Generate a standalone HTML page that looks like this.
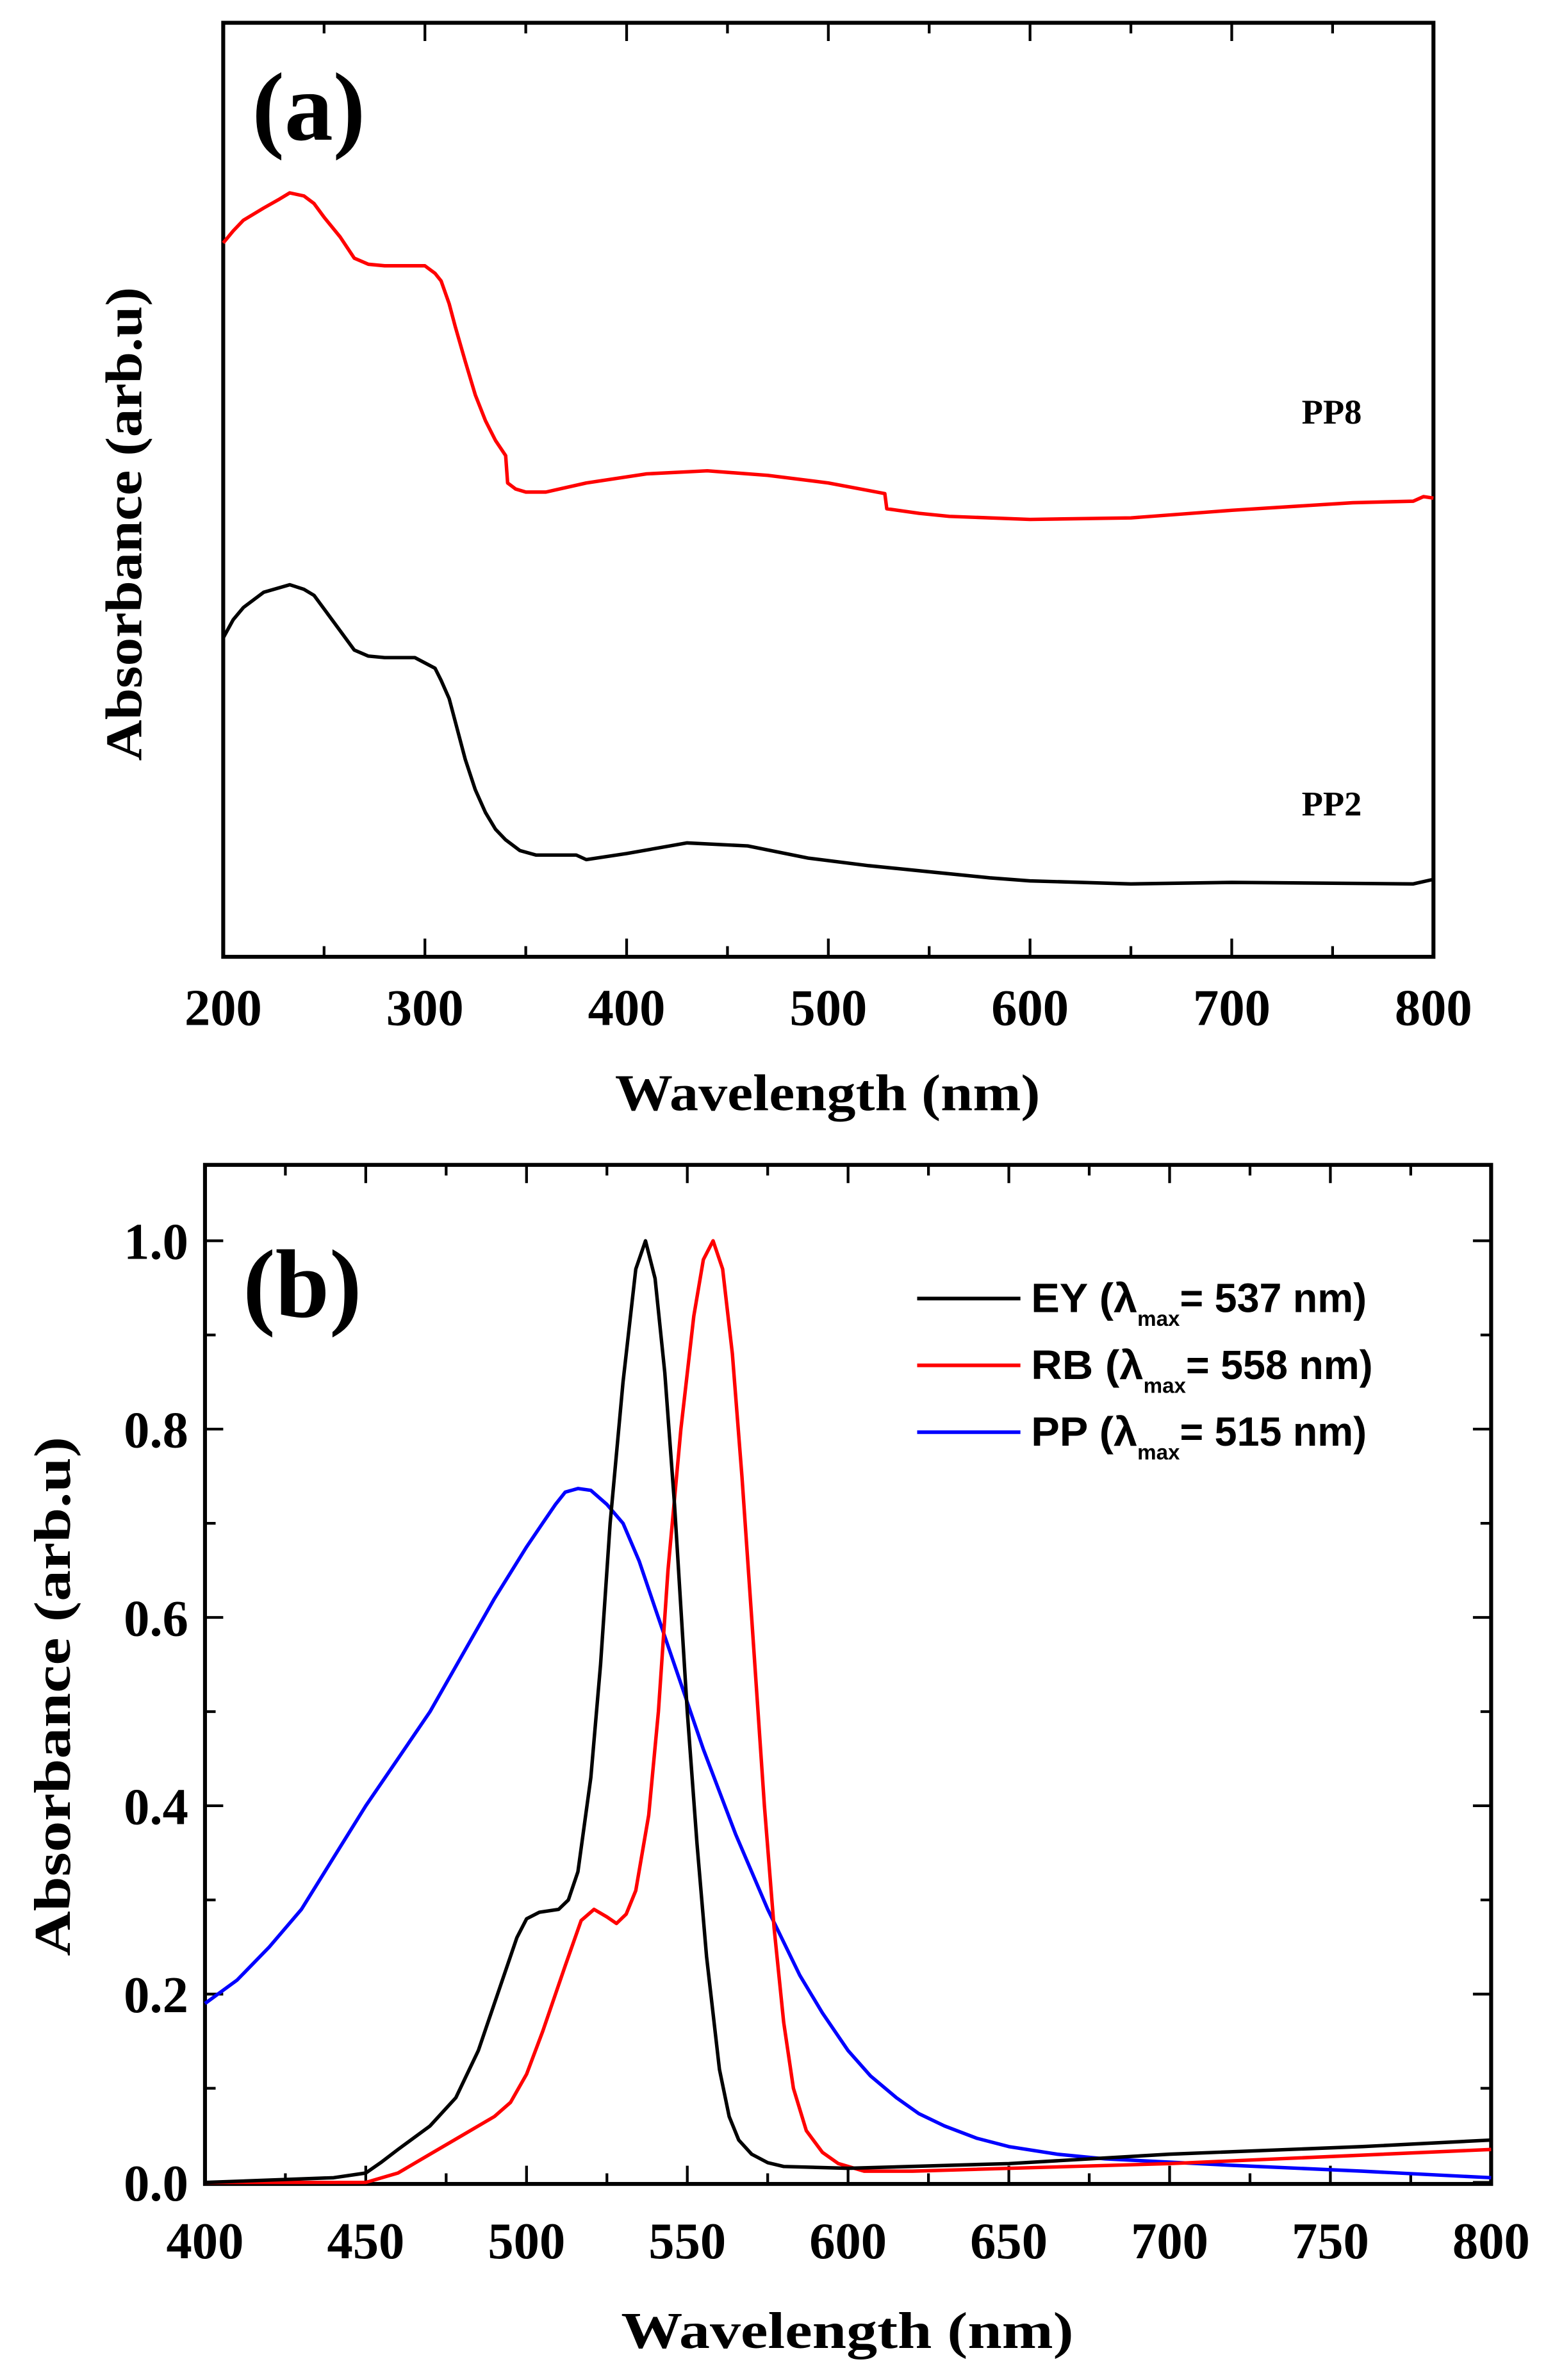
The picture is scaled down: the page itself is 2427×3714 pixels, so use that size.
<!DOCTYPE html>
<html><head><meta charset="utf-8"><style>html,body{margin:0;padding:0;background:#fff}svg{display:block}</style></head>
<body>
<svg width="2427" height="3714" viewBox="0 0 1024.05 1567.09" preserveAspectRatio="none" xmlns="http://www.w3.org/2000/svg">
<g font-family="Liberation Serif, serif" font-weight="bold" fill="#000">
<!-- Panel a -->
<rect x="147" y="15" width="797" height="615" fill="none" stroke="#000" stroke-width="2.6"/>
<g id="ta" stroke="#000" stroke-width="1.8"></g>
<text x="166" y="92" font-size="64">(a)</text>
<g font-size="34" text-anchor="middle" id="la"></g>
<text x="545" y="731" font-size="34" text-anchor="middle" textLength="280" lengthAdjust="spacingAndGlyphs">Wavelength (nm)</text>
<text transform="translate(93,345) rotate(-90)" font-size="34" text-anchor="middle" textLength="312" lengthAdjust="spacingAndGlyphs">Absorbance (arb.u)</text>
<text x="877" y="279" font-size="23" text-anchor="middle">PP8</text>
<text x="877" y="537" font-size="23" text-anchor="middle">PP2</text>
<polyline id="ared" fill="none" stroke="#f00" stroke-width="2.3" stroke-linejoin="round"/>
<polyline id="ablk" fill="none" stroke="#000" stroke-width="2.3" stroke-linejoin="round"/>

<!-- Panel b -->
<rect x="135" y="767" width="847" height="671" fill="none" stroke="#000" stroke-width="2.6"/>
<g id="tb" stroke="#000" stroke-width="1.8"></g>
<text x="160" y="867" font-size="64">(b)</text>
<g font-size="34" text-anchor="middle" id="lb"></g>
<g font-size="34" text-anchor="end">
<text x="124" y="829">1.0</text><text x="124" y="953">0.8</text><text x="124" y="1077">0.6</text><text x="124" y="1201">0.4</text><text x="124" y="1325">0.2</text><text x="124" y="1449">0.0</text>
</g>
<text x="558" y="1546" font-size="34" text-anchor="middle" textLength="298" lengthAdjust="spacingAndGlyphs">Wavelength (nm)</text>
<text transform="translate(46,1117) rotate(-90)" font-size="34" text-anchor="middle" textLength="342" lengthAdjust="spacingAndGlyphs">Absorbance (arb.u)</text>
<g font-family="Liberation Sans, sans-serif" font-weight="bold" font-size="27">
<line x1="604" y1="855" x2="672" y2="855" stroke="#000" stroke-width="2.4"/>
<line x1="604" y1="899" x2="672" y2="899" stroke="#f00" stroke-width="2.4"/>
<line x1="604" y1="943" x2="672" y2="943" stroke="#00f" stroke-width="2.4"/>
<text x="679" y="864"><tspan textLength="70" lengthAdjust="spacingAndGlyphs">EY (λ</tspan><tspan font-size="14" dy="9">max</tspan><tspan dy="-9" textLength="123" lengthAdjust="spacingAndGlyphs">= 537 nm)</tspan></text>
<text x="679" y="908"><tspan textLength="74" lengthAdjust="spacingAndGlyphs">RB (λ</tspan><tspan font-size="14" dy="9">max</tspan><tspan dy="-9" textLength="123" lengthAdjust="spacingAndGlyphs">= 558 nm)</tspan></text>
<text x="679" y="952"><tspan textLength="70" lengthAdjust="spacingAndGlyphs">PP (λ</tspan><tspan font-size="14" dy="9">max</tspan><tspan dy="-9" textLength="123" lengthAdjust="spacingAndGlyphs">= 515 nm)</tspan></text>
</g>
<polyline id="bblu" fill="none" stroke="#00f" stroke-width="2.3" stroke-linejoin="round"/>
<polyline id="bred" fill="none" stroke="#f00" stroke-width="2.3" stroke-linejoin="round"/>
<polyline id="bblk" fill="none" stroke="#000" stroke-width="2.3" stroke-linejoin="round"/>
</g>
</svg>
<script>
function P(id,pts,fx,fy){document.getElementById(id).setAttribute('points',pts.map(p=>fx(p[0]).toFixed(1)+','+fy(p[1]).toFixed(1)).join(' '));}
var ax=n=>147+(n-200)*797/600, id=y=>y;
P('ared',[[200,160],[205,152],[210,145],[220,137],[228,131],[233,127],[240,129],[245,134],[250,143],[258,156],[265,170],[272,174],[280,175],[300,175],[305,180],[308,185],[312,200],[315,215],[320,238],[325,260],[330,277],[335,290],[340,300],[341,318],[345,322],[350,324],[360,324],[380,318],[410,312],[440,310],[470,313],[500,318],[528,325],[529,335],[545,338],[560,340],[600,342],[650,341],[700,336],[760,331],[790,330],[795,327],[800,328]],ax,id);
P('ablk',[[200,420],[205,408],[210,400],[220,390],[233,385],[240,388],[245,392],[255,410],[265,428],[272,432],[280,433],[295,433],[305,440],[308,448],[312,460],[316,480],[320,500],[325,520],[330,535],[335,546],[340,553],[347,560],[355,563],[375,563],[380,566],[400,562],[430,555],[460,557],[490,565],[520,570],[550,574],[580,578],[600,580],[650,582],[700,581],[790,582],[800,579]],ax,id);
var bx=n=>135+(n-400)*847/400, by=v=>1437-v*620;
P('bblk',[[400,0],[440,0.005],[450,0.01],[455,0.022],[460,0.035],[470,0.06],[478,0.09],[485,0.14],[492,0.21],[497,0.26],[500,0.28],[504,0.287],[510,0.29],[513,0.3],[516,0.33],[520,0.43],[523,0.55],[526,0.7],[530,0.85],[534,0.97],[537,1.0],[540,0.96],[543,0.86],[546,0.72],[550,0.5],[553,0.36],[556,0.24],[560,0.12],[563,0.07],[566,0.045],[570,0.03],[575,0.021],[580,0.017],[600,0.015],[650,0.02],[700,0.03],[760,0.038],[800,0.045]],bx,by);
P('bred',[[400,0],[450,0],[460,0.01],[470,0.03],[480,0.05],[490,0.07],[495,0.085],[500,0.115],[505,0.16],[512,0.23],[517,0.278],[521,0.29],[525,0.282],[528,0.275],[531,0.285],[534,0.31],[538,0.39],[541,0.5],[544,0.65],[548,0.8],[552,0.92],[555,0.98],[558,1.0],[561,0.97],[564,0.88],[567,0.75],[570,0.6],[574,0.4],[577,0.27],[580,0.17],[583,0.1],[587,0.055],[592,0.032],[597,0.02],[605,0.012],[620,0.012],[700,0.02],[800,0.035]],bx,by);
P('bblu',[[400,0.19],[410,0.215],[420,0.25],[430,0.29],[440,0.345],[450,0.4],[460,0.45],[470,0.5],[480,0.56],[490,0.62],[500,0.675],[505,0.7],[509,0.72],[512,0.733],[516,0.737],[520,0.735],[525,0.72],[530,0.7],[535,0.66],[540,0.61],[545,0.56],[555,0.46],[565,0.37],[575,0.29],[585,0.22],[592,0.18],[600,0.14],[607,0.113],[615,0.09],[622,0.073],[630,0.06],[640,0.047],[650,0.038],[665,0.03],[680,0.025],[720,0.018],[760,0.012],[800,0.005]],bx,by);
function ticks(g,lines){var s='';lines.forEach(l=>s+='<line x1="'+l[0]+'" y1="'+l[1]+'" x2="'+l[2]+'" y2="'+l[3]+'"/>');document.getElementById(g).innerHTML=s;}
var L=[];for(var n=200;n<=800;n+=50){var x=ax(n),len=n%100?7:12;L.push([x,630,x,630-len],[x,15,x,15+len]);}ticks('ta',L);
L=[];for(var n=400;n<=800;n+=25){var x=bx(n),len=n%50?7:12;L.push([x,1438,x,1438-len],[x,767,x,767+len]);}
for(var v=0;v<=1.05;v+=0.1){var y=by(v),len=Math.round(v*10)%2?7:12;L.push([135,y,135+len,y],[982,y,982-len,y]);}ticks('tb',L);
var s='';for(var n=200;n<=800;n+=100)s+='<text x="'+ax(n)+'" y="675">'+n+'</text>';document.getElementById('la').innerHTML=s;
s='';for(var n=400;n<=800;n+=50)s+='<text x="'+bx(n)+'" y="1487">'+n+'</text>';document.getElementById('lb').innerHTML=s;
</script>
</body></html>
